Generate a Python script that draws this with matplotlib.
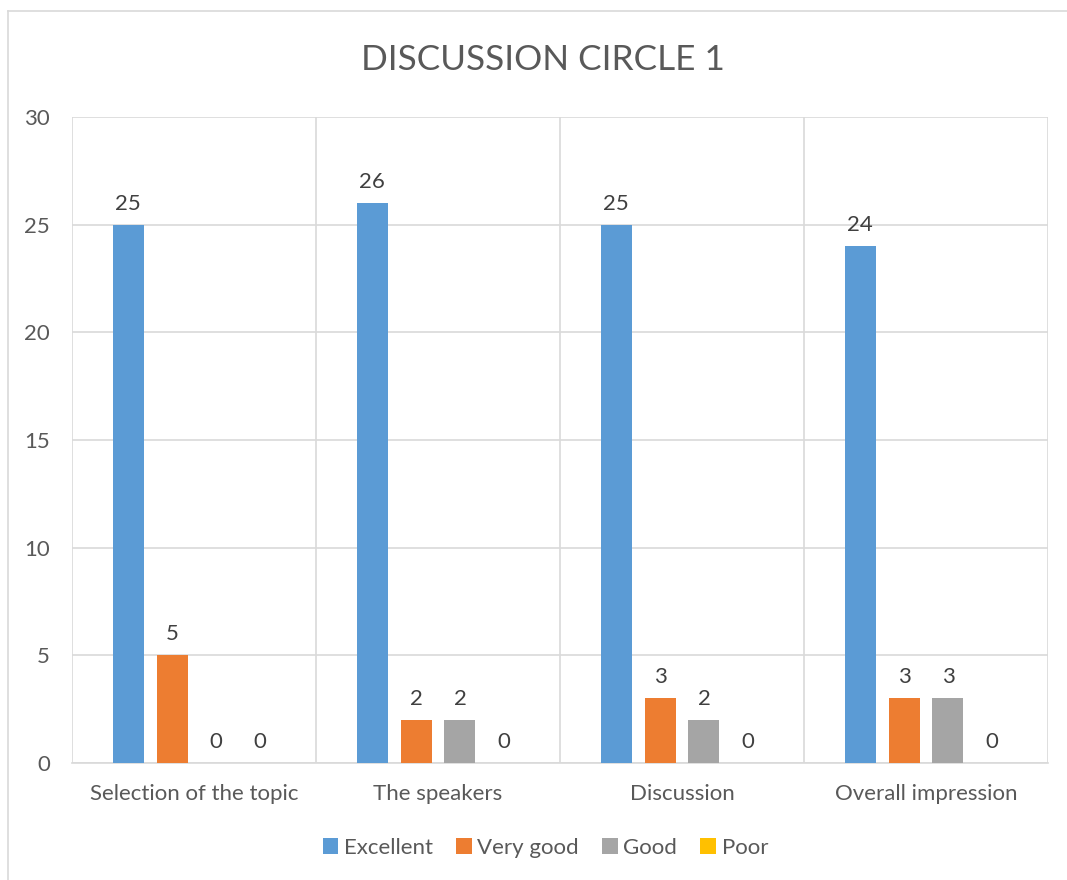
import matplotlib.pyplot as plt
import numpy as np
from matplotlib.lines import Line2D

categories = ["Selection of the topic", "The speakers", "Discussion", "Overall impression"]
series_names = ["Excellent", "Very good", "Good", "Poor"]
excellent = [25, 26, 25, 24]
very_good = [5, 2, 3, 3]
good = [0, 2, 2, 3]
poor = [0, 0, 0, 0]
yticks = [0, 5, 10, 15, 20, 25, 30]

colors = ["#5b9bd5", "#ed7d31", "#a5a5a5", "#ffc000"]
plt.rcParams['font.family'] = ['Lato', 'DejaVu Sans']

fig = plt.figure(figsize=(10.67, 8.80), dpi=100)
ax = fig.add_axes([72 / 1067, 117 / 880, (1048 - 72) / 1067, (763 - 117) / 880])

x = np.arange(len(categories)) + 0.5
offsets = [-0.27, -0.09, 0.09, 0.27]
width = 0.127
for name, vals, off, c in zip(series_names, [excellent, very_good, good, poor], offsets, colors):
    bars = ax.bar(x + off, vals, width, color=c, label=name, zorder=3)
    for b, v in zip(bars, vals):
        ax.annotate(str(v), (b.get_x() + b.get_width() / 2, v), xytext=(0, 8),
                    textcoords="offset points", ha="center", va="bottom",
                    fontsize=16, color="#404040")

ax.set_xlim(0, 4)
ax.set_ylim(0, 30)
ax.set_yticks(yticks)
ax.set_xticks(x)
ax.set_xticklabels(categories)
ax.set_xticks(np.arange(0, 5), minor=True)
ax.tick_params(axis="both", which="both", length=0, labelsize=16, labelcolor="#595959")
ax.tick_params(axis="x", pad=15)
ax.tick_params(axis="y", pad=16)
ax.grid(axis="y", color="#d9d9d9", linewidth=1.2, zorder=0)
ax.grid(axis="x", which="minor", color="#d9d9d9", linewidth=1.2, zorder=0)
for s in ax.spines.values():
    s.set_visible(False)
ax.spines["bottom"].set_visible(True)
ax.spines["bottom"].set_color("#d9d9d9")
ax.spines["bottom"].set_linewidth(1.2)

fig.text(543 / 1067, 1 - 60 / 880, "DISCUSSION CIRCLE 1", ha="center", va="center",
         fontsize=25.3, color="#595959")

ax.legend(loc="center", bbox_to_anchor=(0.485, -0.131), ncol=4, frameon=False,
          fontsize=16, handlelength=0.7, handleheight=0.7, handletextpad=0.25,
          columnspacing=1.05, labelcolor="#595959")

# outer chart border (left and top only, rest is cropped)
fig.add_artist(Line2D([8 / 1067, 8 / 1067], [0, 1 - 11 / 880], color="#d9d9d9", lw=1.2))
fig.add_artist(Line2D([8 / 1067, 1], [1 - 11 / 880, 1 - 11 / 880], color="#d9d9d9", lw=1.2))

fig.savefig("out.png", dpi=100)
